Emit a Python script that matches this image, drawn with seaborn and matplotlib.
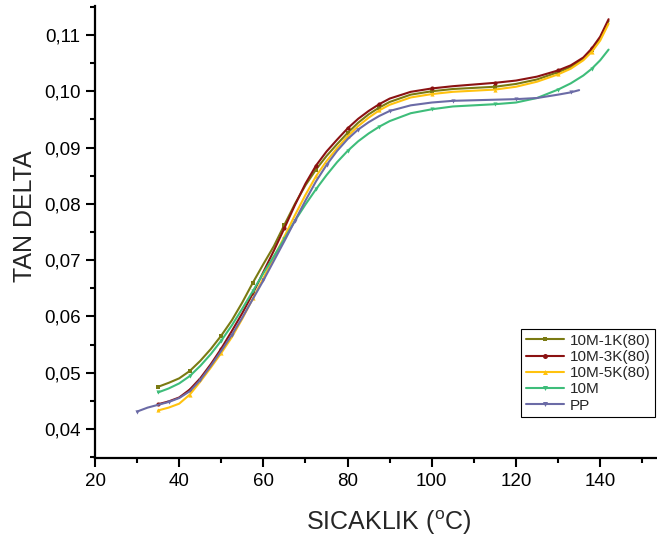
import matplotlib
matplotlib.use("Agg")
import matplotlib.pyplot as plt
import matplotlib.ticker as mticker
import seaborn as sns
import pandas as pd

# ---- data ----
x_common = [35, 37.5, 40, 42.5, 45, 47.5, 50, 52.5, 55, 57.5, 60, 62.5, 65, 67.5,
            70, 72.5, 75, 77.5, 80, 82.5, 85, 87.5, 90, 95, 100, 105, 110, 115,
            120, 125, 130, 133, 136, 138, 140, 142]

y_1k = [0.0475, 0.0482, 0.0490, 0.0503, 0.0521, 0.0542, 0.0566, 0.0593, 0.0625,
        0.0660, 0.0693, 0.0725, 0.0763, 0.0800, 0.0833, 0.0861, 0.0885, 0.0906,
        0.0926, 0.0944, 0.0959, 0.0971, 0.0981, 0.0994, 0.1000, 0.1004, 0.1006,
        0.1008, 0.1013, 0.1021, 0.1034, 0.1043, 0.1057, 0.1073, 0.1094, 0.1125]
y_3k = [0.0444, 0.0449, 0.0456, 0.0470, 0.0490, 0.0515, 0.0543, 0.0574, 0.0606,
        0.0641, 0.0679, 0.0717, 0.0757, 0.0798, 0.0836, 0.0868, 0.0893, 0.0914,
        0.0934, 0.0951, 0.0965, 0.0977, 0.0987, 0.0999, 0.1005, 0.1009, 0.1012,
        0.1015, 0.1019, 0.1026, 0.1037, 0.1046, 0.1060, 0.1076, 0.1097, 0.1128]
y_5k = [0.0433, 0.0438, 0.0445, 0.0461, 0.0484, 0.0509, 0.0535, 0.0563, 0.0596,
        0.0632, 0.0668, 0.0705, 0.0742, 0.0780, 0.0816, 0.0849, 0.0876, 0.0899,
        0.0920, 0.0938, 0.0953, 0.0966, 0.0976, 0.0989, 0.0995, 0.0999, 0.1001,
        0.1003, 0.1008, 0.1017, 0.1030, 0.1040, 0.1055, 0.1070, 0.1090, 0.1120]
y_10m = [0.0465, 0.0472, 0.0481, 0.0494, 0.0512, 0.0533, 0.0557, 0.0584, 0.0614,
         0.0645, 0.0677, 0.0707, 0.0738, 0.0770, 0.0799, 0.0826, 0.0851, 0.0874,
         0.0894, 0.0911, 0.0925, 0.0937, 0.0947, 0.0961, 0.0968, 0.0973, 0.0975,
         0.0977, 0.0980, 0.0988, 0.1003, 0.1014, 0.1028, 0.1040, 0.1055, 0.1074]

x_pp = [30, 32.5, 35, 37.5, 40, 42.5, 45, 47.5, 50, 52.5, 55, 57.5, 60, 62.5, 65,
        67.5, 70, 72.5, 75, 77.5, 80, 82.5, 85, 87.5, 90, 95, 100, 105, 110, 115,
        120, 125, 130, 133, 135]
y_pp = [0.0431, 0.0438, 0.0443, 0.0448, 0.0455, 0.0467, 0.0487, 0.0512, 0.0539,
        0.0567, 0.0598, 0.0631, 0.0664, 0.0699, 0.0734, 0.0770, 0.0806, 0.0840,
        0.0869, 0.0894, 0.0915, 0.0932, 0.0945, 0.0956, 0.0965, 0.0975, 0.0980,
        0.0983, 0.0984, 0.0985, 0.0986, 0.0988, 0.0994, 0.0998, 0.1002]

labels = ["10M-1K(80)", "10M-3K(80)", "10M-5K(80)", "10M", "PP"]
colors = ["#7a7a12", "#8b1212", "#ffc20e", "#3ebd7a", "#6b6ba6"]
markers = ["s", "o", "^", "v", "v"]

x_ticks = [20, 40, 60, 80, 100, 120, 140]
y_ticks = [0.04, 0.05, 0.06, 0.07, 0.08, 0.09, 0.10, 0.11]

series = [
    (x_common, y_1k),
    (x_common, y_3k),
    (x_common, y_5k),
    (x_common, y_10m),
    (x_pp, y_pp),
]

# ---- style ----
sns.set_style("ticks")
plt.rcParams["font.family"] = ["Liberation Sans", "DejaVu Sans"]

fig = plt.figure(figsize=(6.57, 5.39), dpi=100)
ax = fig.add_axes([0.1446, 0.1503, 0.8554, 0.8386])

for (xs, ys), lab, col, mk in zip(series, labels, colors, markers):
    df = pd.DataFrame({"x": xs, "y": ys})
    sns.lineplot(data=df, x="x", y="y", ax=ax, color=col, label=lab,
                 linewidth=1.5, marker=mk, markersize=3, markevery=3,
                 markeredgewidth=0, sort=True)

ax.set_xlim(20, 153.5)
ax.set_ylim(0.03485, 0.11515)
ax.set_xticks(x_ticks)
ax.set_yticks(y_ticks)
ax.xaxis.set_minor_locator(mticker.MultipleLocator(10))
ax.yaxis.set_minor_locator(mticker.MultipleLocator(0.005))
ax.yaxis.set_major_formatter(
    mticker.FuncFormatter(lambda v, p: f"{v:.2f}".replace(".", ",")))

for s in ["top", "right"]:
    ax.spines[s].set_visible(False)
for s in ["left", "bottom"]:
    ax.spines[s].set_linewidth(1.6)
    ax.spines[s].set_color("black")

ax.tick_params(which="major", direction="out", length=6.5, width=1.5,
               labelsize=13.5, colors="black", pad=4)
ax.tick_params(which="minor", direction="out", length=3.6, width=1.5,
               colors="black")

ax.set_xlabel("SICAKLIK ($\\mathregular{^{o}}$C)", fontsize=18)
ax.set_ylabel("TAN DELTA", fontsize=18)
ax.xaxis.set_label_coords(0.5 * (308 + 470) / 562 - 95 / 562, -0.111)
ax.yaxis.set_label_coords(-0.103, 0.535)

leg = ax.legend(loc="lower right", bbox_to_anchor=(0.997, 0.09),
                borderaxespad=0, fontsize=11, frameon=True, fancybox=False,
                edgecolor="black", framealpha=1, handlelength=2.5,
                labelspacing=0.15, handletextpad=0.4, borderpad=0.3,
                markerscale=1.2)
leg.get_frame().set_linewidth(0.8)

fig.savefig("out.png", dpi=100)
